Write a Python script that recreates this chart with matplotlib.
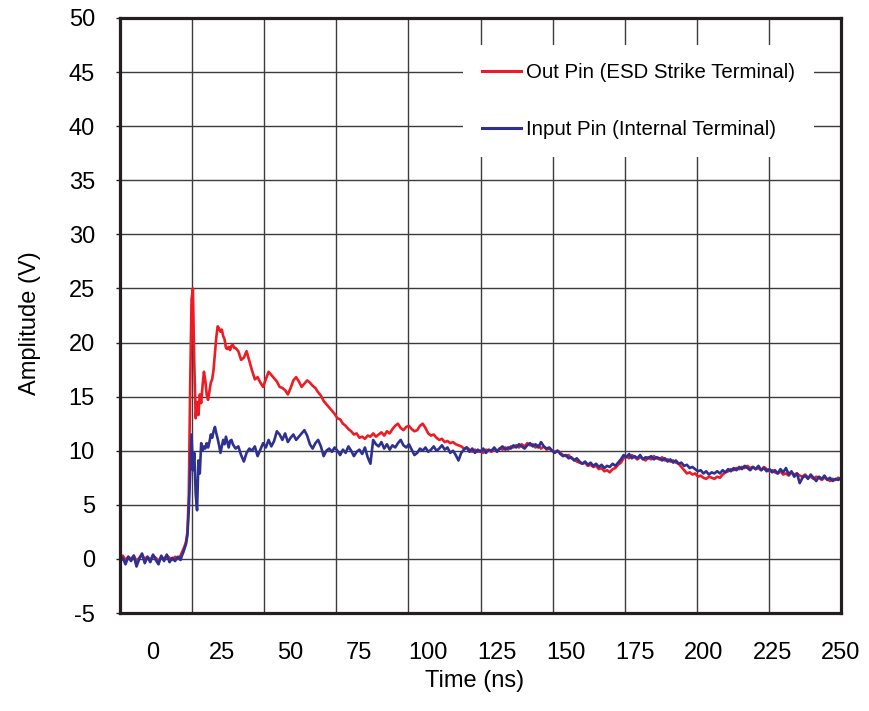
import numpy as np
import matplotlib
matplotlib.use("Agg")
import matplotlib.pyplot as plt

plt.rcParams['font.family'] = ['Liberation Sans', 'DejaVu Sans']
plt.rcParams['axes.unicode_minus'] = False

# sample times (ns): coarse baseline, finer around the strike, then 1 ns
time_ns = np.concatenate([np.arange(-12, 10, 1.0),
                          np.arange(10, 30, 0.5),
                          np.arange(30, 250.5, 1.0)])

out_pin_v = [
    0.1, 0.3, -0.1, 0.2, 0.0, 0.3, -0.2, 0.1, 0.4, 0.0, 0.2, -0.1, 0.3, 0.1, -0.2, 0.2, 0.0, 0.3, 0.1, -0.1, 0.2, 0.0,
    0.3, 0.6, 0.9, 1.2, 1.6, 2.5, 6.0, 16.0, 24.0, 25.0,
    18.0, 13.0, 14.5, 13.3, 15.2, 14.4, 16.0, 17.3, 16.5, 15.2,
    14.7, 15.5, 16.3, 16.6, 17.5, 19.0, 20.5, 21.5, 21.3, 21.0,
    21.2, 20.6, 20.3, 19.5, 19.4, 19.6, 19.3, 19.7, 19.8, 19.5,
    19.5, 19.2, 18.4, 18.6, 19.2, 18.3, 17.4, 16.6, 16.8, 16.3,
    15.9, 16.6, 17.3, 17.0, 16.7, 16.4, 15.9, 15.8, 15.6, 15.2,
    15.8, 16.5, 16.8, 16.4, 15.9, 16.2, 16.5, 16.3, 16.0, 15.8,
    15.4, 15.1, 14.6, 14.3, 14.0, 13.7, 13.4, 13.0, 12.9, 12.5,
    12.3, 12.0, 11.8, 11.5, 11.6, 11.2, 11.3, 11.1, 11.4, 11.3,
    11.6, 11.3, 11.5, 11.7, 11.4, 11.8, 11.6, 12.0, 12.3, 12.5,
    12.1, 11.9, 12.2, 12.3, 12.0, 11.8, 11.9, 12.3, 12.5, 12.1,
    11.6, 11.4, 11.5, 11.2, 11.0, 11.1, 10.8, 10.9, 10.7, 10.8,
    10.6, 10.5, 10.4, 10.2, 10.3, 10.1, 9.9, 10.1, 9.9, 10.0,
    9.8, 10.1, 10.0, 9.9, 10.2, 10.0, 10.2, 10.1, 10.3, 10.1,
    10.4, 10.3, 10.5, 10.3, 10.6, 10.4, 10.7, 10.5, 10.6, 10.3,
    10.5, 10.2, 10.4, 10.1, 10.2, 10.0, 9.9, 10.0, 9.8, 9.6,
    9.5, 9.6, 9.3, 9.2, 9.0, 8.9, 8.8, 8.9, 8.6, 8.7,
    8.5, 8.6, 8.3, 8.4, 8.1, 8.2, 8.0, 8.3, 8.4, 8.7,
    8.9, 9.3, 9.5, 9.3, 9.6, 9.4, 9.2, 9.4, 9.3, 9.1,
    9.4, 9.2, 9.5, 9.3, 9.2, 9.4, 9.1, 9.2, 9.0, 9.1,
    8.9, 8.8, 8.5, 8.2, 7.9, 8.0, 7.8, 7.9, 7.6, 7.7,
    7.5, 7.4, 7.6, 7.5, 7.4, 7.6, 7.5, 7.8, 8.0, 8.1,
    8.3, 8.2, 8.4, 8.3, 8.5, 8.4, 8.6, 8.4, 8.5, 8.3,
    8.4, 8.2, 8.5, 8.3, 8.1, 8.2, 8.0, 7.9, 8.1, 7.8,
    7.9, 7.7, 8.0, 7.8, 7.9, 7.7, 7.6, 7.8, 7.5, 7.6,
    7.4, 7.6, 7.5, 7.3, 7.5, 7.4, 7.2, 7.4, 7.3, 7.5,
    7.4,
]

input_pin_v = [
    -0.3, 0.1, -0.5, 0.2, -0.2, 0.3, -0.7, 0.0, 0.5, -0.4, 0.2, -0.3, 0.4, -0.1, -0.5, 0.3, -0.2, 0.4, -0.3, 0.1, -0.2, 0.2,
    -0.1, 0.3, 0.6, 1.0, 1.4, 2.2, 4.5, 8.0, 11.5, 8.2,
    9.8, 6.0, 4.5, 9.1, 7.9, 10.7, 10.0, 10.4, 10.2, 10.7,
    10.3, 10.8, 11.5, 11.2, 11.8, 12.2, 11.6, 11.1, 10.5, 9.8,
    10.4, 11.0, 10.6, 11.3, 10.8, 10.3, 10.9, 11.0, 10.6, 10.4,
    10.2, 10.4, 9.6, 9.0, 9.8, 10.2, 10.0, 10.4, 9.5, 10.1,
    10.7, 10.3, 11.0, 10.4, 10.9, 11.8, 11.5, 11.0, 11.6, 10.8,
    11.2, 11.5, 11.0, 11.3, 11.6, 11.9, 11.4, 10.6, 10.2, 10.7,
    11.0, 10.4, 9.5, 10.0, 10.2, 9.9, 10.3, 10.0, 9.6, 10.1,
    9.8, 10.4, 10.0, 9.5, 9.9, 10.1, 9.7, 10.3, 9.4, 8.8,
    11.0, 10.6, 10.4, 10.8, 10.2, 10.6, 10.1, 10.5, 10.3, 10.7,
    11.0, 10.5, 10.3, 10.6, 10.1, 9.6, 9.8, 10.2, 10.0, 10.3,
    9.9, 10.1, 10.4, 10.0, 10.2, 10.5, 10.1, 10.3, 9.8, 10.0,
    9.6, 9.1, 9.8, 10.1, 10.3, 9.9, 10.2, 9.8, 10.1, 9.9,
    10.2, 9.8, 10.1, 10.0, 10.3, 9.9, 10.2, 10.4, 10.1, 10.3,
    10.2, 10.5, 10.3, 10.6, 10.4, 10.2, 10.5, 10.7, 10.4, 10.6,
    10.3, 10.8, 10.4, 10.2, 10.3, 10.0, 9.8, 10.0, 9.7, 9.5,
    9.6, 9.3, 9.4, 9.1, 9.3, 9.0, 8.8, 9.0, 8.7, 8.9,
    8.6, 8.8, 8.5, 8.7, 8.4, 8.6, 8.5, 8.8, 8.6, 8.9,
    9.2, 9.6, 9.4, 9.7, 9.3, 9.5, 9.3, 9.6, 9.2, 9.4,
    9.3, 9.5, 9.2, 9.4, 9.3, 9.1, 9.3, 9.0, 9.2, 8.9,
    9.1, 8.8, 8.9, 8.6, 8.7, 8.4, 8.5, 8.3, 8.1, 8.2,
    7.9, 8.1, 7.8, 8.0, 7.9, 8.1, 7.9, 8.2, 8.0, 8.3,
    8.1, 8.4, 8.2, 8.5, 8.3, 8.6, 8.4, 8.2, 8.5, 8.3,
    8.6, 8.2, 8.4, 8.1, 8.3, 8.0, 8.2, 7.9, 8.3, 8.0,
    8.4, 7.8, 8.1, 7.6, 7.9, 7.0, 7.5, 7.7, 7.4, 7.8,
    7.5, 7.2, 7.6, 7.4, 7.7, 7.3, 7.5, 7.2, 7.4, 7.3,
    7.5,
]

series_labels = ["Out Pin (ESD Strike Terminal)", "Input Pin (Internal Terminal)"]
x_ticks = [0, 25, 50, 75, 100, 125, 150, 175, 200, 225, 250]
y_ticks = [-5, 0, 5, 10, 15, 20, 25, 30, 35, 40, 45, 50]

RED = "#ED1C24"
BLUE = "#2E3192"
INK = "#231F20"

fig = plt.figure(figsize=(8.69, 7.11), dpi=100)
ax = fig.add_axes([120 / 869, 98 / 711, 721 / 869, 595 / 711])

x_min, x_max = -12, 250
ax.set_xlim(x_min, x_max)
ax.set_ylim(-5, 50)

# scope graticule: 10 horizontal divisions, horizontal lines at 5 V
for xv in np.linspace(x_min, x_max, 11)[1:-1]:
    ax.axvline(xv, color="#3c3c3c", lw=1.0, zorder=1)
for yv in y_ticks[1:-1]:
    ax.axhline(yv, color="#3c3c3c", lw=1.0, zorder=1)

ax.plot(time_ns, out_pin_v, color=RED, lw=1.9, zorder=3, label=series_labels[0])
ax.plot(time_ns, input_pin_v, color=BLUE, lw=1.9, zorder=4, label=series_labels[1])

ax.set_xticks(x_ticks)
ax.set_yticks(y_ticks)
ax.tick_params(axis="x", length=0, pad=21, labelsize=17)
ax.tick_params(axis="y", length=3, width=1, direction="out", pad=15, labelsize=17, colors=INK)
for t in ax.get_xticklabels() + ax.get_yticklabels():
    t.set_color("black")

for s in ax.spines.values():
    s.set_linewidth(2.3)
    s.set_color(INK)
    s.set_zorder(6)

ax.set_xlabel("Time (ns)", fontsize=17)
ax.set_ylabel("Amplitude (V)", fontsize=17)
ax.xaxis.set_label_coords(0.492, -0.096)
ax.yaxis.set_label_coords(-0.11, 0.487)

leg = ax.legend(loc="upper left", bbox_to_anchor=(0.476, 0.955), fontsize=14.7,
                frameon=True, fancybox=False, facecolor="white", edgecolor="none",
                framealpha=1.0, handlelength=1.95, handletextpad=0.25,
                labelspacing=1.85, borderpad=0.9, borderaxespad=0.0)
leg.set_zorder(5)
for line in leg.get_lines():
    line.set_linewidth(2.2)

fig.savefig("out.png", dpi=100)
